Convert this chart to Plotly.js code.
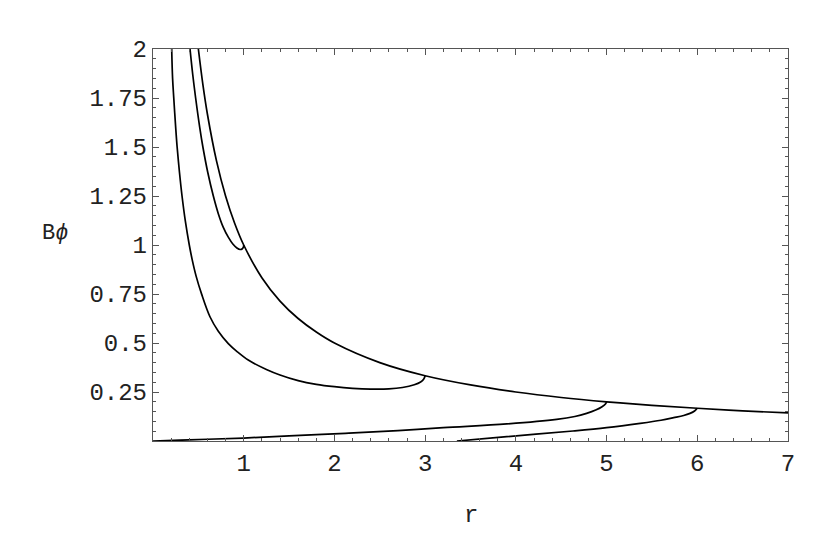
<!DOCTYPE html>
<html>
<head>
<meta charset="utf-8">
<script src="https://cdn.plot.ly/plotly-3.0.1.min.js"></script>
<style>
  body { margin: 0; background: #fff; }
  #plot { width: 830px; height: 536px; }
</style>
</head>
<body>
<div id="plot"></div>
<script>
// === DATA ===
// envelope curve, ends of the other branches sit on it
const rEnvelope = [0.5, 0.55, 0.6, 0.7, 0.8, 0.9, 1, 1.2, 1.4, 1.6, 1.8, 2, 2.5, 3, 3.5, 4, 4.5, 5, 5.5, 6, 6.5, 7];
const bEnvelope = [2, 1.818, 1.667, 1.429, 1.25, 1.111, 1, 0.833, 0.714, 0.625, 0.556, 0.5, 0.4, 0.333, 0.286, 0.25, 0.222, 0.2, 0.182, 0.167, 0.154, 0.143];

// branch ending at r = 1
const rBranch1 = [0.408, 0.438, 0.47, 0.515, 0.55, 0.604, 0.665, 0.72, 0.775, 0.83, 0.88, 0.925, 0.96, 0.985, 0.997, 1.0];
const bBranch1 = [2, 1.87, 1.75, 1.6, 1.5, 1.37, 1.25, 1.16, 1.09, 1.04, 1.005, 0.985, 0.977, 0.981, 0.99, 1.0];

// branch ending at r = 3
const rBranch3 = [0.206, 0.216, 0.229, 0.25, 0.266, 0.292, 0.32, 0.357, 0.4, 0.433, 0.476, 0.537, 0.628, 0.72, 0.83, 0.93, 1.05, 1.25, 1.4, 1.6, 1.8, 2.0, 2.2, 2.4, 2.6, 2.75, 2.88, 2.95, 2.985, 3.0];
const bBranch3 = [2, 1.85, 1.75, 1.6, 1.5, 1.37, 1.25, 1.12, 1.0, 0.923, 0.84, 0.748, 0.634, 0.56, 0.497, 0.455, 0.413, 0.365, 0.337, 0.308, 0.289, 0.277, 0.269, 0.265, 0.266, 0.273, 0.287, 0.301, 0.316, 0.333];

// lower branch ending at r = 5
const rBranch5 = [0, 0.3, 0.6, 1.0, 1.5, 2.12, 2.7, 3.2, 3.9, 4.45, 4.65, 4.78, 4.88, 4.95, 4.99, 5.0];
const bBranch5 = [0, 0.004, 0.009, 0.015, 0.026, 0.039, 0.053, 0.068, 0.087, 0.11, 0.125, 0.141, 0.158, 0.175, 0.19, 0.2];

// lower branch ending at r = 6
const rBranch6 = [3.35, 3.9, 4.63, 5.0, 5.37, 5.6, 5.74, 5.85, 5.92, 5.97, 6.0];
const bBranch6 = [0, 0.022, 0.051, 0.068, 0.09, 0.106, 0.119, 0.13, 0.141, 0.153, 0.167];

const xTicks = [1, 2, 3, 4, 5, 6, 7];
const yTicks = [0.25, 0.5, 0.75, 1, 1.25, 1.5, 1.75, 2];
const yTickText = ["0.25", "0.5", "0.75", "1", "1.25", "1.5", "1.75", "2"];

// === PLOT ===
const curve = (x, y) => ({
  x: x, y: y, type: "scatter", mode: "lines",
  line: { color: "#000", width: 1.7, shape: "spline", smoothing: 1 },
  hoverinfo: "skip"
});

const traces = [
  curve(rEnvelope, bEnvelope),
  curve(rBranch1, bBranch1),
  curve(rBranch3, bBranch3),
  curve(rBranch5, bBranch5),
  curve(rBranch6, bBranch6)
];

const tickFont = { family: "Liberation Mono, Courier New, monospace", size: 24, color: "#222" };
const frameColor = "#555";

const layout = {
  width: 830, height: 536,
  margin: { l: 153, r: 42, t: 49, b: 95 },
  paper_bgcolor: "#fff", plot_bgcolor: "#fff",
  showlegend: false,
  xaxis: {
    range: [0, 7], tickmode: "array", tickvals: xTicks,
    ticks: "inside", ticklen: 6, tickcolor: frameColor, tickwidth: 1,
    showline: true, linecolor: frameColor, linewidth: 1.2, mirror: "allticks",
    showgrid: false, zeroline: false, tickfont: tickFont,
    minor: { tickmode: "linear", tick0: 0, dtick: 0.2, ticks: "inside", ticklen: 3, tickcolor: frameColor, showgrid: false }
  },
  yaxis: {
    range: [0, 2], tickmode: "array", tickvals: yTicks, ticktext: yTickText,
    ticks: "inside", ticklen: 6, tickcolor: frameColor, tickwidth: 1,
    showline: true, linecolor: frameColor, linewidth: 1.2, mirror: "allticks",
    showgrid: false, zeroline: false, tickfont: tickFont,
    minor: { tickmode: "linear", tick0: 0, dtick: 0.05, ticks: "inside", ticklen: 3, tickcolor: frameColor, showgrid: false }
  },
  annotations: [
    { text: "r", xref: "paper", yref: "paper", x: 0.5, y: -0.19, xanchor: "center", yanchor: "middle",
      showarrow: false, font: { family: "Liberation Mono, monospace", size: 24, color: "#222" } },
    { text: "B<i>ϕ</i>", xref: "paper", yref: "paper", x: -0.155, y: 0.53, xanchor: "center", yanchor: "middle",
      showarrow: false, font: { family: "Liberation Mono, monospace", size: 22, color: "#222" } }
  ]
};

Plotly.newPlot("plot", traces, layout, { staticPlot: true });
</script>
</body>
</html>
